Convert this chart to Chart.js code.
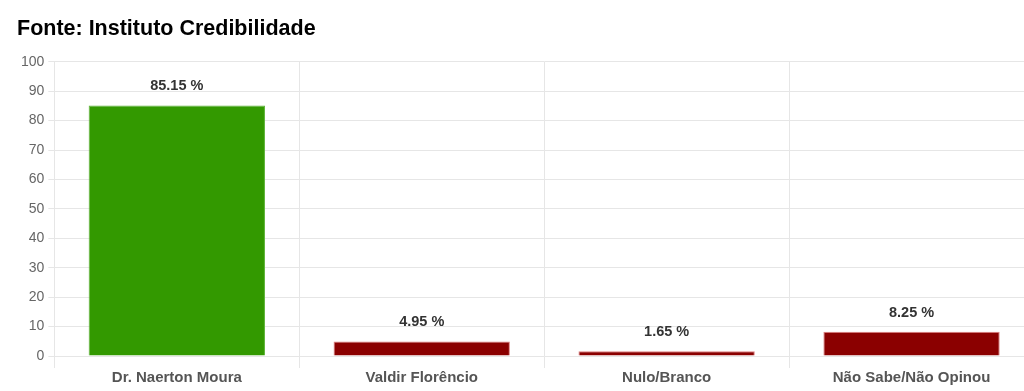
<!DOCTYPE html>
<html>
<head>
<meta charset="utf-8">
<script src="https://cdn.jsdelivr.net/npm/chart.js@4/dist/chart.umd.min.js"></script>
<style>
  html, body { margin: 0; padding: 0; background: #fff; overflow: hidden; }
  #wrap { position: relative; width: 1034px; height: 391px; }
</style>
</head>
<body>
<div id="wrap"><canvas id="myBarChart"></canvas></div>
<script>
// Pesquisa - Instituto Credibilidade
const candidates = ['Dr. Naerton Moura', 'Valdir Florêncio', 'Nulo/Branco', 'Não Sabe/Não Opinou'];
const percents = [85.15, 4.95, 1.65, 8.25];
const barColors = ['#339900', '#8b0000', '#8b0000', '#8b0000'];
const borderColors = ['#5fb53a', '#e08080', '#e08080', '#e08080'];

Chart.defaults.font.family = '"Liberation Sans", Arial, sans-serif';

// labels above each bar
const valueLabels = {
    id: 'valueLabels',
    afterDatasetsDraw(chart) {
        const ctx = chart.ctx;
        const meta = chart.getDatasetMeta(0);
        ctx.save();
        ctx.font = 'bold 14.5px "Liberation Sans", Arial, sans-serif';
        ctx.fillStyle = '#333';
        ctx.textAlign = 'center';
        ctx.textBaseline = 'middle';
        meta.data.forEach((bar, i) => {
            ctx.fillText(percents[i].toFixed(2) + ' %', bar.x, bar.y - 19);
        });
        ctx.restore();
    }
};

new Chart(document.getElementById('myBarChart'), {
    type: 'bar',
    data: {
        labels: candidates,
        datasets: [{
            data: percents,
            backgroundColor: barColors,
            borderColor: borderColors,
            borderWidth: 1,
            categoryPercentage: 0.9,
            barPercentage: 0.8
        }]
    },
    options: {
        animation: false,
        maintainAspectRatio: false,
        layout: { padding: { left: 17, right: 0, top: 0, bottom: 3 } },
        scales: {
            y: {
                min: 0,
                max: 100,
                ticks: { stepSize: 10, color: '#666', font: { size: 14 }, padding: 4 },
                grid: { color: '#e6e6e6', tickLength: 6 },
                border: { color: '#e6e6e6' }
            },
            x: {
                ticks: { color: '#555', font: { size: 15, weight: 'bold' }, padding: 1 },
                grid: { color: '#e6e6e6', tickLength: 12 },
                border: { color: '#e6e6e6' }
            }
        },
        plugins: {
            legend: { display: false },
            tooltip: { enabled: false },
            title: {
                display: true,
                text: 'Fonte: Instituto Credibilidade',
                align: 'start',
                color: '#000',
                font: { size: 21.5, weight: 'bold' },
                padding: { top: 16, bottom: 20 }
            }
        }
    },
    plugins: [valueLabels]
});
</script>
</body>
</html>
